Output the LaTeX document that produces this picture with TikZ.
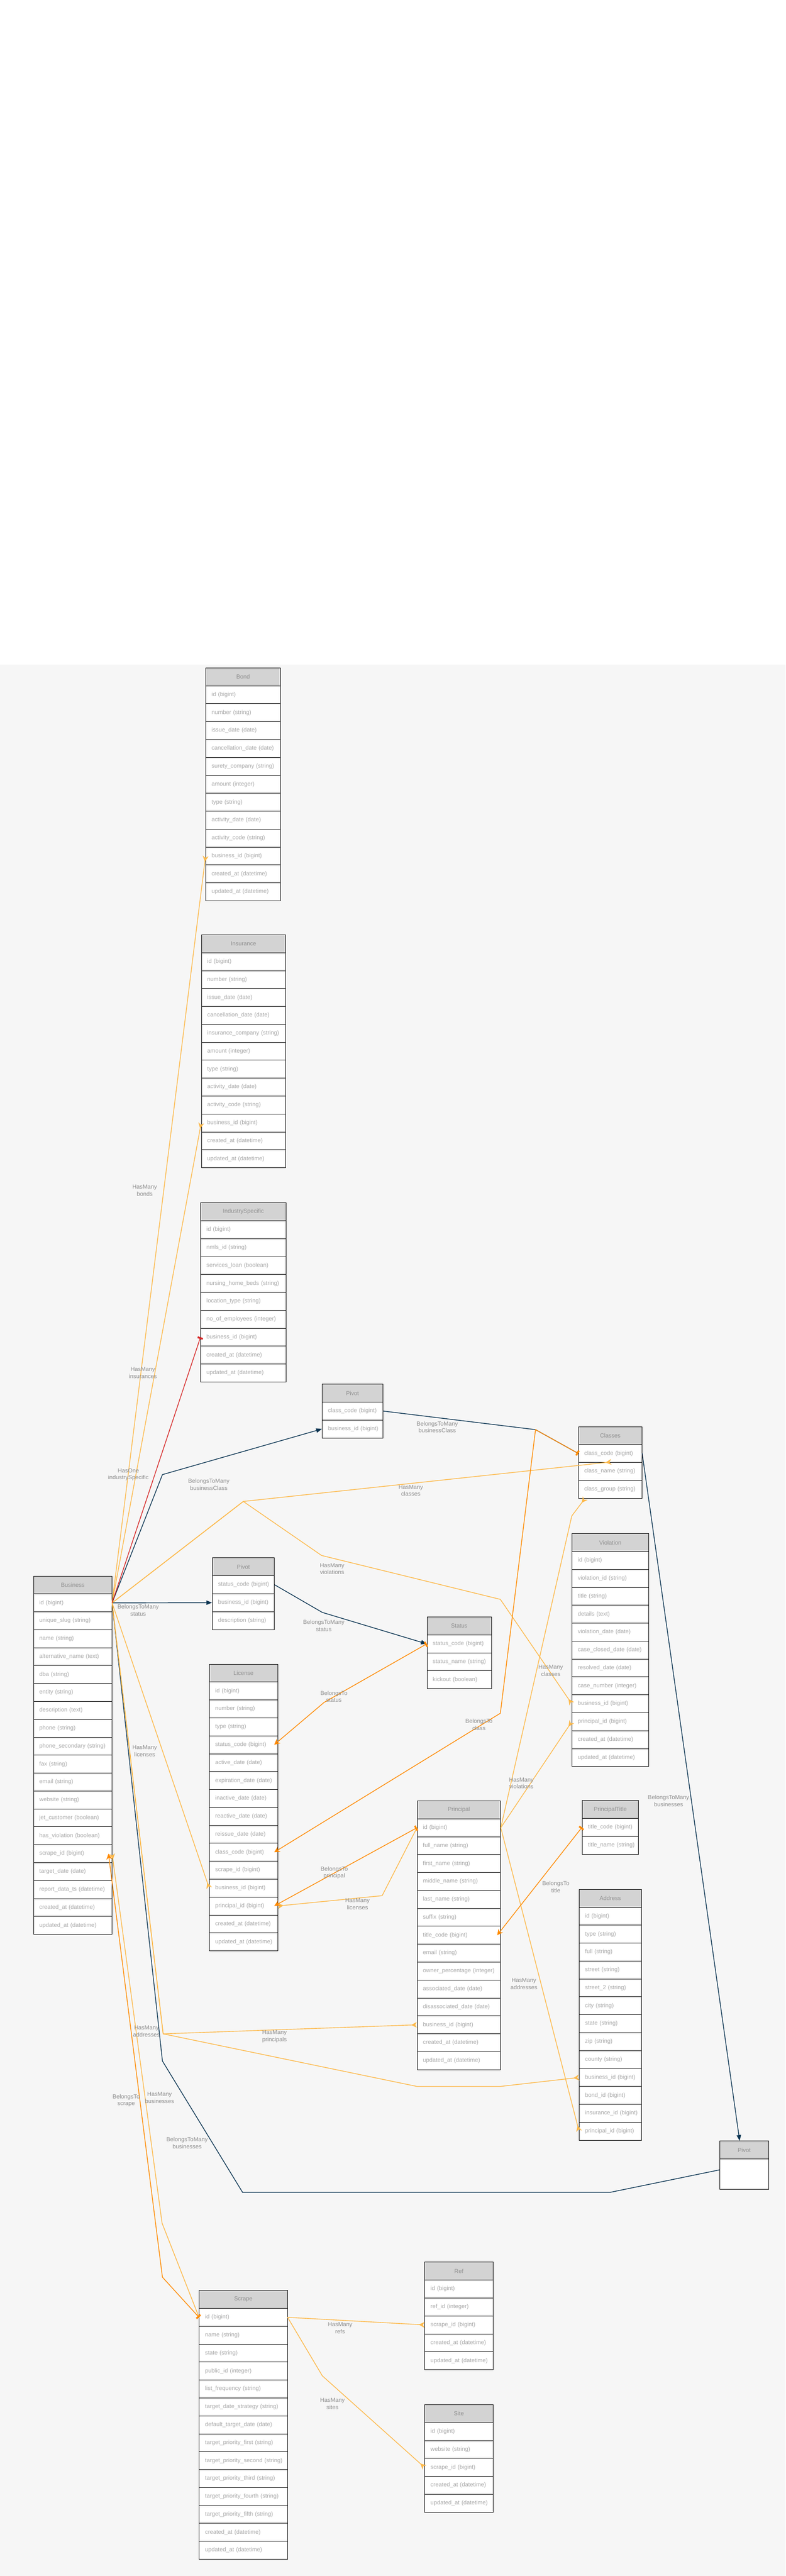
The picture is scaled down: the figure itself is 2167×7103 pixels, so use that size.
\documentclass[tikz,border=0pt]{standalone}
\usepackage{fontspec}
\setmainfont{Liberation Sans}
\usetikzlibrary{arrows.meta,calc}
\definecolor{bgc}{HTML}{F6F6F6}
\definecolor{hdrfill}{HTML}{D3D3D3}
\definecolor{hmc}{HTML}{FDB94A}
\definecolor{btc}{HTML}{FF8A00}
\definecolor{bmc}{HTML}{0C3552}
\definecolor{hoc}{HTML}{D62828}
\definecolor{ftxt}{HTML}{A8A8A8}
\definecolor{htxt}{HTML}{909090}
\definecolor{ltxt}{HTML}{8C8C8C}
\newcommand{\erdfont}{\fontsize{16}{19.5}\selectfont}
\newcommand{\erdtab}[6]{%
  \pgfmathsetmacro\erdtw{#5-32}%
  \node[hdrbox,minimum width=#5pt] (#1-0) at (#3,#4) {#2};
  \foreach \f [count=\i] in {#6}{%
    \node[fldbox,minimum width=#5pt,text width=\erdtw pt] (#1-\i) at (#3,#4+\i*49.4) {\mbox{\f}};
  }%
}
\begin{document}
\begin{tikzpicture}[x=1pt,y=-1pt,
  fldbox/.style={draw=black,line width=1.2pt,fill=white,minimum height=49.4pt,inner xsep=16pt,inner ysep=0pt,text=ftxt,font=\erdfont,anchor=north west,align=left},
  hdrbox/.style={draw=black,line width=1.2pt,fill=hdrfill,minimum height=49.4pt,inner sep=0pt,text=htxt,font=\erdfont,anchor=north west},
  lbl/.style={text=ltxt,font=\erdfont,align=center,inner sep=1pt},
  hm/.style={draw=hmc,line width=2pt,-{Stealth[reversed,length=16pt,width=16pt,inset=5pt]}},
  bt/.style={draw=btc,line width=2pt,{Stealth[length=16pt,width=16pt,inset=5pt]}-{Rectangle[length=5pt,width=15pt]}},
  bm/.style={draw=bmc,line width=2pt,-{Triangle[length=16pt,width=12pt]}},
  bmx/.style={draw=bmc,line width=2pt},
  ho/.style={draw=hoc,line width=2pt,-{Rectangle[length=5pt,width=15pt]}}
]
\useasboundingbox (0,0) rectangle (2167,7103);
\fill[white] (0,0) rectangle (2167,7103);
\fill[bgc] (0,1832) rectangle (2167,7103);

% ---------- tables ----------
\erdtab{bond}{Bond}{567}{1841}{206}{id (bigint),number (string),issue\_date (date),cancellation\_date (date),surety\_company (string),amount (integer),type (string),activity\_date (date),activity\_code (string),business\_id (bigint),created\_at (datetime),updated\_at (datetime)}
\erdtab{ins}{Insurance}{555}{2577}{232}{id (bigint),number (string),issue\_date (date),cancellation\_date (date),insurance\_company (string),amount (integer),type (string),activity\_date (date),activity\_code (string),business\_id (bigint),created\_at (datetime),updated\_at (datetime)}
\erdtab{ind}{IndustrySpecific}{553}{3316}{235}{id (bigint),nmls\_id (string),services\_loan (boolean),nursing\_home\_beds (string),location\_type (string),no\_of\_employees (integer),business\_id (bigint),created\_at (datetime),updated\_at (datetime)}
\erdtab{pvc}{Pivot}{888}{3816}{167}{class\_code (bigint),business\_id (bigint)}
\erdtab{cls}{Classes}{1595}{3933}{175}{class\_code (bigint),class\_name (string),class\_group (string)}
\erdtab{vio}{Violation}{1577}{4228}{211}{id (bigint),violation\_id (string),title (string),details (text),violation\_date (date),case\_closed\_date (date),resolved\_date (date),case\_number (integer),business\_id (bigint),principal\_id (bigint),created\_at (datetime),updated\_at (datetime)}
\erdtab{bus}{Business}{92}{4345}{216}{id (bigint),unique\_slug (string),name (string),alternative\_name (text),dba (string),entity (string),description (text),phone (string),phone\_secondary (string),fax (string),email (string),website (string),jet\_customer (boolean),has\_violation (boolean),scrape\_id (bigint),target\_date (date),report\_data\_ts (datetime),created\_at (datetime),updated\_at (datetime)}
\erdtab{pvs}{Pivot}{585}{4295}{171}{status\_code (bigint),business\_id (bigint),description (string)}
\erdtab{sta}{Status}{1177}{4458}{178}{status\_code (bigint),status\_name (string),kickout (boolean)}
\erdtab{lic}{License}{577}{4588}{188}{id (bigint),number (string),type (string),status\_code (bigint),active\_date (date),expiration\_date (date),inactive\_date (date),reactive\_date (date),reissue\_date (date),class\_code (bigint),scrape\_id (bigint),business\_id (bigint),principal\_id (bigint),created\_at (datetime),updated\_at (datetime)}
\erdtab{pri}{Principal}{1150}{4965}{230}{id (bigint),full\_name (string),first\_name (string),middle\_name (string),last\_name (string),suffix (string),title\_code (bigint),email (string),owner\_percentage (integer),associated\_date (date),disassociated\_date (date),business\_id (bigint),created\_at (datetime),updated\_at (datetime)}
\erdtab{ptt}{PrincipalTitle}{1605}{4964}{155}{title\_code (bigint),title\_name (string)}
\erdtab{adr}{Address}{1597}{5209}{171}{id (bigint),type (string),full (string),street (string),street\_2 (string),city (string),state (string),zip (string),county (string),business\_id (bigint),bond\_id (bigint),insurance\_id (bigint),principal\_id (bigint)}
\node[hdrbox,minimum width=134pt] (pivb-0) at (1985,5903) {Pivot};
\node[fldbox,minimum width=134pt,minimum height=84pt] (pivb-1) at (1985,5952.4) {};
\erdtab{scr}{Scrape}{549}{6315}{243}{id (bigint),name (string),state (string),public\_id (integer),list\_frequency (string),target\_date\_strategy (string),default\_target\_date (date),target\_priority\_first (string),target\_priority\_second (string),target\_priority\_third (string),target\_priority\_fourth (string),target\_priority\_fifth (string),created\_at (datetime),updated\_at (datetime)}
\erdtab{ref}{Ref}{1171}{6237}{188}{id (bigint),ref\_id (integer),scrape\_id (bigint),created\_at (datetime),updated\_at (datetime)}
\erdtab{site}{Site}{1171}{6630}{188}{id (bigint),website (string),scrape\_id (bigint),created\_at (datetime),updated\_at (datetime)}

% ---------- bend points ----------
\coordinate (k20) at (448,4066);
\coordinate (k3) at (671,4140);
\coordinate (clsmid) at (1686,4031);
\coordinate (k4a) at (887,4289);
\coordinate (k4b) at (1380,4410);
\coordinate (k6) at (450,5608);
\coordinate (k7a) at (1150,5753);
\coordinate (k7b) at (1380,5753);
\coordinate (k24a) at (448,5683);
\coordinate (k24b) at (669,6045);
\coordinate (k24c) at (1683,6045);
\coordinate (k24d) at (1985,5983);
\coordinate (k8) at (447,6130);
\coordinate (k19) at (448,6279);
\coordinate (k23) at (889,4446);
\coordinate (k21) at (1477,3942);
\coordinate (k15) at (894,4694);
\coordinate (k16a) at (1380,4724);
\coordinate (k12) at (1054,5227);
\coordinate (k10) at (1577,4180);
\coordinate (clsbot) at (1614,4131);
\coordinate (k25) at (2040,5903);
\coordinate (k14) at (889,6551);

% ---------- BelongsToMany ----------
\draw[bm] (bus-1.east) -- (k20) -- (pvc-2.west);
\draw[bmx] (pvc-1.east) -- (k21) -- (cls-1.west);
\draw[bm] (bus-1.east) -- (pvs-2.west);
\draw[bm] (pvs-1.east) -- (k23) -- (sta-1.west);
\draw[bmx] (bus-1.east) -- (k24a) -- (k24b) -- (k24c) -- (k24d);
\draw[bm] (cls-1.east) -- (k25);

% ---------- HasMany ----------
\draw[hm] (bus-1.east) -- (bond-10.west);
\draw[hm] (bus-1.east) -- (ins-10.west);
\draw[hm] (bus-1.east) -- (k3) -- (clsmid);
\draw[hm] (bus-1.east) -- (k3) -- (k4a) -- (k4b) -- (vio-9.west);
\draw[hm] (bus-1.east) -- (lic-12.west);
\draw[hm] (bus-1.east) -- (k6) -- (pri-12.west);
\draw[hm] (bus-1.east) -- (k6) -- (k7a) -- (k7b) -- (adr-10.west);
\draw[hm] (scr-1.west) -- (k8) -- (bus-15.east);
\draw[hm] (pri-1.east) -- (vio-10.west);
\draw[hm] (pri-1.east) -- (k10) -- (clsbot);
\draw[hm] (pri-1.east) -- (adr-13.west);
\draw[hm] (pri-1.west) -- (k12) -- (lic-13.east);
\draw[hm] (scr-1.east) -- (ref-3.west);
\draw[hm] (scr-1.east) -- (k14) -- (site-3.west);

% ---------- BelongsTo ----------
\draw[bt] ($(lic-4.east)+(-10,0)$) -- (k15) -- (sta-1.west);
\draw[bt] ($(lic-10.east)+(-10,0)$) -- (k16a) -- (k21) -- (cls-1.west);
\draw[bt] ($(lic-13.east)+(-10,0)$) -- (pri-1.west);
\draw[bt] ($(pri-7.east)+(-10,0)$) -- (ptt-1.west);
\draw[bt] ($(bus-15.east)+(-10,0)$) -- (k19) -- (scr-1.west);

% ---------- HasOne ----------
\draw[ho] (bus-1.east) -- (ind-7.west);

% ---------- labels ----------
\node[lbl] (l1) at (399,3282) {HasMany\\bonds};
\node[lbl] (l2) at (394,3785) {HasMany\\insurances};
\node[lbl] (l3) at (354,4066) {HasOne\\industrySpecific};
\node[lbl] (l4) at (576,4093) {BelongsToMany\\businessClass};
\node[lbl] (l5) at (1206,3935) {BelongsToMany\\businessClass};
\node[lbl] (l6) at (1133,4110) {HasMany\\classes};
\node[lbl] (l7) at (916,4326) {HasMany\\violations};
\node[lbl] (l8) at (381,4440) {BelongsToMany\\status};
\node[lbl] (l9) at (893,4483) {BelongsToMany\\status};
\node[lbl] (l10) at (921,4678) {BelongsTo\\status};
\node[lbl] (l11) at (1519,4606) {HasMany\\classes};
\node[lbl] (l12) at (1321,4755) {BelongsTo\\class};
\node[lbl] (l13) at (399,4828) {HasMany\\licenses};
\node[lbl] (l14) at (1438,4917) {HasMany\\violations};
\node[lbl] (l15) at (1844,4966) {BelongsToMany\\businesses};
\node[lbl] (l16) at (922,5164) {BelongsTo\\principal};
\node[lbl] (l17) at (1533,5203) {BelongsTo\\title};
\node[lbl] (l18) at (986,5250) {HasMany\\licenses};
\node[lbl] (l19) at (1445,5470) {HasMany\\addresses};
\node[lbl] (l20) at (404,5601) {HasMany\\addresses};
\node[lbl] (l21) at (757,5615) {HasMany\\principals};
\node[lbl] (l22) at (440,5784) {HasMany\\businesses};
\node[lbl] (l23) at (348,5792) {BelongsTo\\scrape};
\node[lbl] (l24) at (516,5909) {BelongsToMany\\businesses};
\node[lbl] (l25) at (938,6419) {HasMany\\refs};
\node[lbl] (l26) at (917,6628) {HasMany\\sites};
\end{tikzpicture}
\end{document}
